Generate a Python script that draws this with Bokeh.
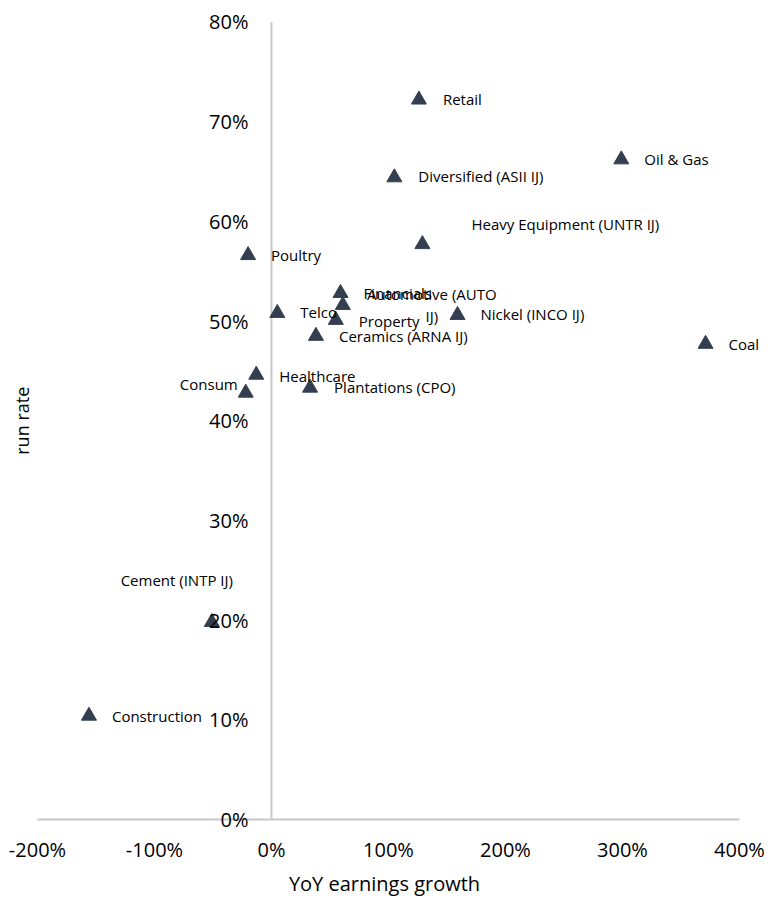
from bokeh.plotting import figure
from bokeh.models import ColumnDataSource, PrintfTickFormatter, FixedTicker, Label, Range1d
from bokeh.core.properties import value
from bokeh.embed import file_html
from bokeh.resources import INLINE

# ---- data ----
sectors = ["Retail", "Oil & Gas", "Diversified (ASII IJ)", "Heavy Equipment (UNTR IJ)",
           "Poultry", "Financials", "Automotive (AUTO\nIJ)", "Telco", "Property",
           "Nickel (INCO IJ)", "Ceramics (ARNA IJ)", "Coal", "Healthcare", "Consum",
           "Plantations (CPO)", "Cement (INTP IJ)", "Construction"]
yoy_growth = [126, 299, 105, 129, -20, 59, 61, 5, 55, 159, 38, 371, -13, -22, 33, -51, -156]
run_rate = [72.2, 66.2, 64.4, 57.7, 56.6, 52.8, 51.6, 50.8, 50.1, 50.6, 48.5, 47.7,
            44.6, 42.8, 43.3, 19.8, 10.4]
x_ticks = [-200, -100, 0, 100, 200, 300, 400]
y_ticks = [0, 10, 20, 30, 40, 50, 60, 70, 80]

# ---- label placement (screen px offsets, y down) ----
label_dx = [24, 23, 24, 49, 23, 23, 89, 23, 23, 23, 23, 23, 23, -8, 24, -35, 23]
label_dy = [-1, -1, -1, -20, 0, 0, 0, -1, 1, -1, 0, 0, 1, -9, -1, -42, 0]
label_align = ["left"] * len(sectors)
label_align[6] = "center"
label_align[13] = "right"
label_align[15] = "center"

FONT = "Open Sans"
MARK = "#333f50"
AXIS = "#c8c8c8"

src = ColumnDataSource(dict(x=yoy_growth, y=run_rate, name=sectors,
                            dx=label_dx, dy=label_dy, align=label_align))

# the frame fills the whole canvas; axes are drawn at x = 0 and y = 0
p = figure(width=768, height=899, output_backend="svg", toolbar_location=None,
           x_range=Range1d(-231.6, 424.8), y_range=Range1d(-8.02, 82.15),
           min_border=0)
p.outline_line_color = None
p.grid.visible = False
p.background_fill_color = "white"
p.border_fill_color = "white"

# axis lines spanning the tick range
p.segment(x0=[x_ticks[0]], y0=[0], x1=[x_ticks[-1]], y1=[0], line_color=AXIS, line_width=2)
p.segment(x0=[0], y0=[y_ticks[0]], x1=[0], y1=[y_ticks[-1]], line_color=AXIS, line_width=2)

p.scatter("x", "y", source=src, marker="triangle", size=15, color=MARK)
p.text("x", "y", text="name", source=src, x_offset="dx", y_offset="dy",
       text_align="align", text_baseline="middle", text_font=value(FONT),
       text_font_size="15px", text_color="#000000", text_line_height=1.08)

# x axis
xa = p.xaxis[0]
xa.fixed_location = 0
xa.ticker = FixedTicker(ticks=x_ticks)
xa.formatter = PrintfTickFormatter(format="%d%%")
xa.axis_line_color = None
xa.major_tick_line_color = None
xa.minor_tick_line_color = None
xa.major_label_standoff = 10
xa.major_label_text_font = FONT
xa.major_label_text_font_size = "20px"
xa.major_label_text_color = "#000000"
xa.axis_label = "YoY earnings growth"
xa.axis_label_standoff = 4
xa.axis_label_text_font = FONT
xa.axis_label_text_font_size = "20px"
xa.axis_label_text_font_style = "normal"
xa.axis_label_text_color = "#000000"

# y axis drawn at x = 0
ya = p.yaxis[0]
ya.fixed_location = 0
ya.ticker = FixedTicker(ticks=y_ticks)
ya.formatter = PrintfTickFormatter(format="%d%%")
ya.axis_line_color = None
ya.major_tick_line_color = None
ya.minor_tick_line_color = None
ya.major_label_standoff = 17
ya.major_label_text_font = FONT
ya.major_label_text_font_size = "20px"
ya.major_label_text_color = "#000000"

p.add_layout(Label(x=21, y=(y_ticks[0] + y_ticks[-1]) / 2, x_units="screen", y_units="data",
                   text="run rate", angle=90, angle_units="deg",
                   text_align="center", text_baseline="middle",
                   text_font=FONT, text_font_size="18px", text_color="#000000"))

open("out.html", "w").write(file_html(p, INLINE))
